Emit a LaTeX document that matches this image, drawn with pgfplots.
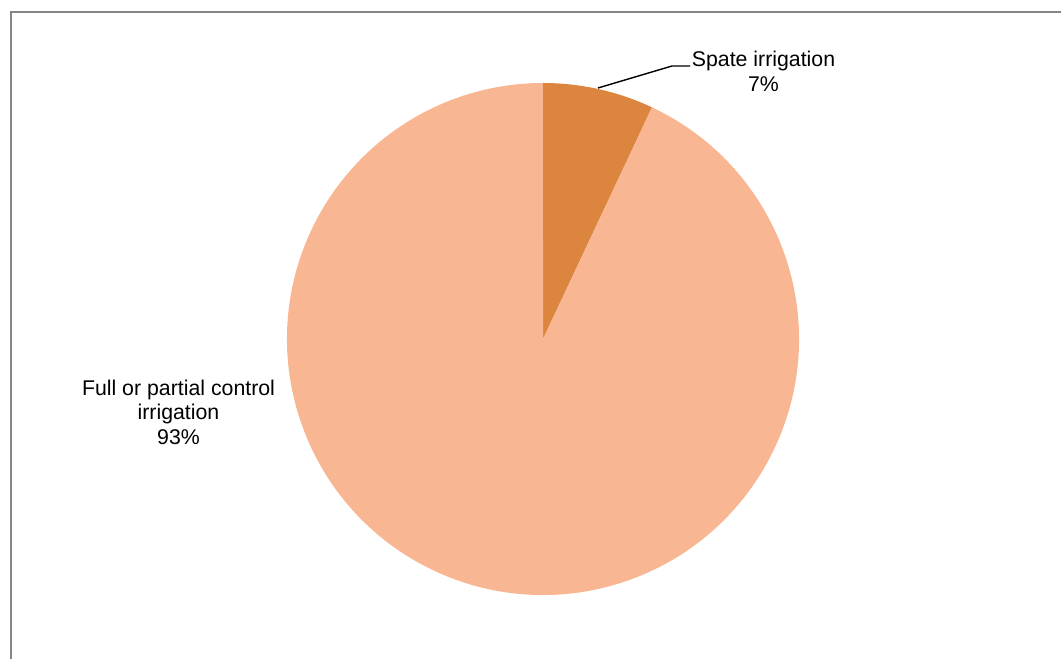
\documentclass[border=0pt]{standalone}
\usepackage{pgfplots}
\usepackage{pgfplotstable}
\pgfplotsset{compat=1.18}
\usepackage{fontspec}
\setmainfont{Liberation Sans}
\definecolor{spate}{RGB}{220,133,62}
\definecolor{full}{RGB}{249,182,146}
\definecolor{frame}{RGB}{134,134,134}
\pgfplotstableread{
label value
Spate 7
Full 93
}\piedata
\begin{document}%
\begin{tikzpicture}
\pgfplotstablegetelem{0}{value}\of\piedata \let\va\pgfplotsretval
\pgfplotstablegetelem{1}{value}\of\piedata \let\vb\pgfplotsretval
\pgfmathsetmacro{\total}{\va+\vb}
\pgfmathsetmacro{\angA}{90-(\va/\total)*360}
\pgfmathsetmacro{\angB}{\angA-(\vb/\total)*360}
\begin{axis}[
  anchor=south west, at={(0,0)},
  scale only axis, width=1061bp, height=659bp,
  xmin=0, xmax=1061, ymin=0, ymax=659,
  hide axis, clip=false,
]
\fill[spate] (axis cs:543,320) -- ++(90:256bp) arc[start angle=90, end angle=\angA, radius=256bp] -- cycle;
\fill[full] (axis cs:543,320) -- ++(\angA:256bp) arc[start angle=\angA, end angle=\angB, radius=256bp] -- cycle;
\draw[black, line width=1.4bp] (axis cs:598,571) -- (axis cs:672,593) -- (axis cs:690,593);
\node[align=center, font=\fontsize{21.3bp}{25bp}\selectfont, inner sep=0pt] at (axis cs:763.5,588) {Spate irrigation\\7\%};
\node[align=center, font=\fontsize{21.3bp}{24.6bp}\selectfont, inner sep=0pt] at (axis cs:178.5,247) {Full or partial control\\irrigation\\93\%};
\draw[frame, line width=2bp] (axis cs:10.5,0) -- (axis cs:10.5,646.5) -- (axis cs:1061,646.5);
\end{axis}
\pgfresetboundingbox
\path[use as bounding box] (0,0) rectangle (1061bp,659bp);
\end{tikzpicture}%
\end{document}
